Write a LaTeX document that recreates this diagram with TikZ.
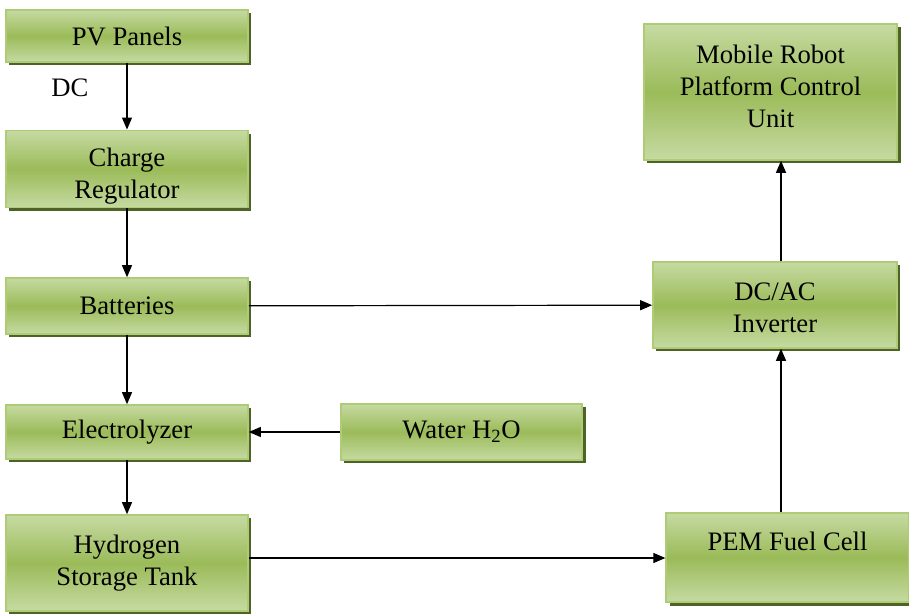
\documentclass[tikz,border=0pt]{standalone}
\usepackage{fontspec}
\setmainfont{Liberation Serif}
\usepackage{tikz}
\usetikzlibrary{positioning,arrows.meta,shadows}
\definecolor{boxtop}{HTML}{C6DAA2}
\definecolor{boxmid}{HTML}{9BBB59}
\definecolor{boxedge}{HTML}{AECB76}
\definecolor{boxshade}{HTML}{4F6228}
\tikzset{
  flowarrow/.style={-{Triangle[length=9pt, width=7.5pt]}, line width=0.9pt},
  greenbox/.style={draw=boxedge, line width=1.2pt, top color=boxtop, bottom color=boxtop, middle color=boxmid,
    drop shadow={shadow xshift=2.6pt, shadow yshift=-2.6pt, fill=boxshade, opacity=1},
    minimum width=181.5pt, align=center, inner sep=2pt},
  dclabel/.style={font=\fontsize{20}{24}\selectfont, inner sep=1pt}
}

\begin{document}
\begin{tikzpicture}[x=0.75pt, y=-0.75pt, every node/.style={font=\fontsize{20}{24}\selectfont}]
  \useasboundingbox (0,0) rectangle (909,616);
  % left column
  \node[greenbox, minimum height=39pt] (pv) at (127,36) {PV Panels};
  \node[greenbox, minimum height=58pt] (charge) at (127,169) {\rule{0pt}{25pt}Charge\\Regulator};
  \node[greenbox, minimum height=42pt] (bat) at (127,306) {Batteries};
  \node[greenbox, minimum height=40.5pt] (elec) at (127,432) {Electrolyzer};
  \node[greenbox, minimum height=72pt] (tank) at (127,563) {Hydrogen\\Storage Tank};
  % middle and right
  \node[greenbox, minimum height=42pt, minimum width=181pt] (water) at (461.5,432) {Water H\textsubscript{2}O};
  \node[greenbox, minimum height=102pt, minimum width=190pt] (robot) at (770.5,92) {Mobile Robot\\Platform Control\\Unit\rule[-9pt]{0pt}{9pt}};
  \node[greenbox, minimum height=64.5pt, minimum width=183pt] (inv) at (775,305) {\rule{0pt}{17pt}DC/AC\\Inverter};
  \node[greenbox, minimum height=67pt, minimum width=182pt] (pem) at (787.5,557.5) {PEM Fuel Cell\\~};
  \node[dclabel] (dc) at (70,88) {DC};

  \draw[flowarrow] (pv) -- (charge);
  \draw[flowarrow] (charge) -- (bat);
  \draw[flowarrow] (bat) -- (elec);
  \draw[flowarrow] (elec) -- (tank);
  \draw[flowarrow] (water) -- (elec);
  \draw[flowarrow] (bat) -- (inv);
  \draw[flowarrow] (tank.east |- 0,558) coordinate (tankout) -- (tankout -| pem.west);
  \draw[flowarrow] ([xshift=4.5pt]pem.north -| inv.north) -- ([xshift=4.5pt]inv.south);
  \draw[flowarrow] ([xshift=4.5pt]inv.north) -- ([xshift=4.5pt]inv.north |- robot.south);
\end{tikzpicture}
\end{document}
